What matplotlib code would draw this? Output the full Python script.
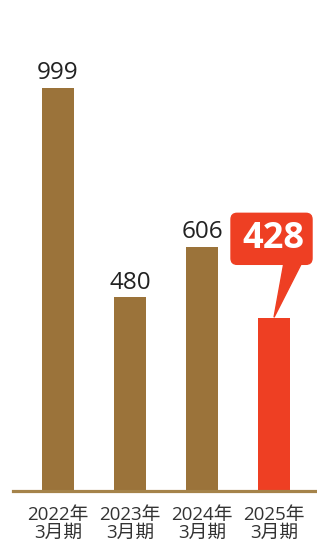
import matplotlib
matplotlib.use("Agg")
import matplotlib.pyplot as plt
from matplotlib.patches import FancyBboxPatch, Polygon
from matplotlib.transforms import IdentityTransform

plt.rcParams['font.family'] = ['Open Sans', 'Noto Sans CJK JP', 'DejaVu Sans']

years = ["2022年\n3月期", "2023年\n3月期", "2024年\n3月期", "2025年\n3月期"]
values = [999, 480, 606, 428]
colors = ["#9b733a", "#9b733a", "#9b733a", "#ee3f23"]

W, H, DPI = 317, 545, 100
fig = plt.figure(figsize=(W / DPI, H / DPI), dpi=DPI)
ax = fig.add_axes([13 / W, 54 / H, 304 / W, 491 / H])

x = list(range(len(values)))
ax.bar(x, values, width=0.444, color=colors, zorder=2)
ax.set_xlim(-0.625, 3.597)
ax.set_ylim(0, 1217)

for s in ["top", "left", "right"]:
    ax.spines[s].set_visible(False)
ax.spines["bottom"].set_color("#a5834a")
ax.spines["bottom"].set_linewidth(2.3)
ax.spines["bottom"].set_zorder(3)
ax.set_yticks([])
ax.set_xticks(x)
ax.set_xticklabels(years, fontsize=13.5, color="#333333", linespacing=0.95)
ax.tick_params(axis="x", length=0, pad=11)

# value labels for the first three bars
for i in x[:-1]:
    ax.annotate(str(values[i]), (i, values[i]), xytext=(0, 2),
                textcoords="offset points", ha="center", va="bottom",
                fontsize=17.5, color="#222222")

# callout for the latest year
fig.canvas.draw()
tx, ty = ax.transData.transform((x[-1], values[-1]))
bx0, bx1 = tx - 43, tx + 38
by0, by1 = ty + 54, ty + 105
box = FancyBboxPatch((bx0, by0), bx1 - bx0, by1 - by0,
                     boxstyle="round,pad=0,rounding_size=6",
                     transform=IdentityTransform(), color=colors[-1],
                     zorder=4, clip_on=False)
fig.patches.append(box)
tail = Polygon([(tx + 10, by0 + 2), (tx + 28, by0 + 2), (tx, ty + 1)],
               closed=True, transform=IdentityTransform(), color=colors[-1],
               zorder=4, clip_on=False)
fig.patches.append(tail)
fig.text((bx0 + bx1 + 4) / 2 / W, (by0 + by1) / 2 / H, str(values[-1]),
         ha="center", va="center", fontsize=26, fontweight="bold",
         color="white", zorder=5)

fig.savefig("out.png", dpi=DPI)
